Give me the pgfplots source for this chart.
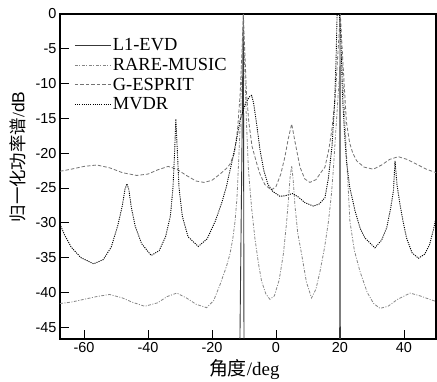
\documentclass[border=0pt]{standalone}
\usepackage{fontspec}
\setmainfont{Liberation Serif}
\setsansfont{Liberation Sans}
\newfontfamily\cjk{Noto Sans CJK SC}
\usepackage{pgfplots}
\pgfplotsset{compat=1.18}
\definecolor{cL}{gray}{0.22}
\definecolor{cR}{gray}{0.52}
\definecolor{cG}{gray}{0.45}
\definecolor{cM}{gray}{0.0}
\begin{document}
\begin{tikzpicture}
\path[use as bounding box] (-60bp,-43bp) rectangle (377bp,339bp);
\begin{axis}[
  at={(0,0)}, anchor=south west,
  scale only axis, width=376bp, height=325bp,
  xmin=-67.5, xmax=50, ymin=-46.7, ymax=0,
  xtick={-60,-40,-20,0,20,40}, ytick={-45,-40,-35,-30,-25,-20,-15,-10,-5,0},
  tick align=inside, xtick pos=left, ytick pos=left,
  major tick length=9bp,
  tick style={line width=0.9bp, black},
  axis line style={line width=1.1bp},
  ticklabel style={font=\sffamily\fontsize{14.5}{16}\selectfont},
  /pgf/number format/assume math mode=true,
  xlabel={{\cjk 角度}/deg},
  ylabel={{\cjk 归一化功率谱}/{\sffamily dB}},
  xlabel style={at={(axis description cs:0.49,-0.064)}, anchor=north, inner sep=0pt, font=\fontsize{19}{21}\selectfont},
  ylabel style={at={(axis description cs:-0.09,0.56)}, anchor=south, inner sep=0pt, font=\fontsize{17.5}{20}\selectfont},
  legend style={at={(axis description cs:0.038,0.93)}, anchor=north west, draw=none, fill=none,
    font=\fontsize{18.5}{20}\selectfont, row sep=3bp, inner sep=0pt, nodes={inner sep=1.5bp}},
  legend cell align=left,
  legend image code/.code={\draw[#1] (0bp,0bp) -- (36bp,0bp);},
]
\addplot[cL, line width=0.9bp] coordinates {
(-68,-60) (-11.3,-48) (-10.2,0) (-10.0,-48) (-9.9,-60) (19.85,-60) (19.9,-48) (20.0,0) (20.1,-48) (20.15,-60) (55,-60)
};
\addlegendentry{L1-EVD}
\addplot[cR, line width=0.8bp, dash pattern=on 3bp off 1.5bp on 1bp off 1.5bp] coordinates {
(-67.5,-41.6) (-64,-41.4) (-60,-41.0) (-56,-40.6) (-52,-40.3) (-48,-40.8) (-45,-41.4) (-41,-42.0) (-37,-41.5) (-34,-40.6) (-31,-40.1) (-28,-40.8) (-25,-41.7) (-21.7,-42.2) (-19.5,-41.2) (-17.5,-38.9) (-15.5,-36.3) (-14.4,-34.5) (-13.5,-32.3) (-12.8,-29.8) (-12.2,-26.5) (-11.8,-22.5) (-11.2,-16) (-10.7,-9) (-10.2,-1) (-9.7,-9) (-9.2,-16) (-8.6,-22.5) (-7.6,-28) (-6.6,-32.2) (-5.5,-35.8) (-4.5,-38.4) (-3.2,-40.2) (-1.9,-41) (-0.5,-40.5) (1,-38.2) (2.3,-34.5) (3.3,-30) (4,-26) (4.4,-23.5) (4.9,-21.8) (5.4,-24) (5.9,-27.4) (6.8,-31.5) (8,-34.5) (9.5,-38.5) (11.1,-40.8) (12.5,-39.5) (13.75,-37) (15.2,-33.5) (16.4,-29.8) (17.3,-26) (17.9,-22.5) (18.8,-16) (19.8,-9) (20.5,-5.7) (21.2,-12) (22,-20) (23.1,-29.8) (24.5,-34) (26.25,-37) (28.5,-40) (30.5,-41.6) (32.5,-42.3) (35,-42) (38,-41) (41.9,-40.1) (45,-40.5) (48,-41) (50,-41.3)
};
\addlegendentry{RARE-MUSIC}
\addplot[cG, line width=0.8bp, dash pattern=on 3.5bp off 2bp] coordinates {
(-67.5,-22.6) (-64,-22.3) (-60,-21.9) (-56,-21.7) (-52,-22.1) (-48,-22.8) (-43.5,-23.2) (-40,-23.0) (-37,-22.4) (-33.7,-21.9) (-31,-22.3) (-28,-23.2) (-25,-24.0) (-22.5,-24.2) (-20,-23.9) (-17.5,-23.0) (-15.5,-22.2) (-14.4,-21.6) (-13,-20) (-12,-16.5) (-11.2,-11.5) (-10.7,-6) (-10.2,0) (-9.7,-6) (-9.2,-11.5) (-8.5,-15.5) (-7.5,-19) (-6,-21.5) (-5,-23) (-3.5,-24.5) (-1.5,-25.3) (0,-24.8) (1.5,-23) (2.8,-20.5) (3.8,-18) (4.9,-15.8) (6,-18.5) (7.5,-22) (9,-23.7) (10.6,-24.2) (12.5,-23.8) (14,-22.8) (15.3,-22) (16.5,-19.5) (17.5,-16.5) (18.5,-12) (19.3,-6) (20.1,0) (20.8,-6) (21.3,-10) (22,-15.5) (23,-18.5) (24,-20) (25.2,-21.1) (27.5,-22.0) (30.4,-22.3) (33,-21.7) (35.5,-20.9) (38.2,-20.5) (41,-20.9) (44,-21.6) (47,-22.3) (50,-22.8)
};
\addlegendentry{G-ESPRIT}
\addplot[cM, line width=0.9bp, dash pattern=on 1.1bp off 1.1bp] coordinates {
(-67.5,-30.2) (-66,-31.8) (-64,-33.5) (-61,-35.0) (-57,-35.9) (-54,-35.3) (-51.5,-33.5) (-49.5,-30.5) (-48,-27.5) (-47.2,-25.2) (-46.6,-24.4) (-46,-25.2) (-45.2,-27.8) (-44,-30.5) (-42,-33) (-39,-34.7) (-36.5,-34) (-34.5,-32) (-33,-29) (-32.2,-25) (-31.7,-20) (-31.3,-15.1) (-30.8,-20) (-30.3,-25) (-29.3,-29) (-27.5,-32) (-24.3,-33.4) (-21.5,-32.3) (-19,-29.8) (-17,-27.2) (-15.5,-24.8) (-13.9,-21.5) (-12.5,-18.5) (-11.25,-15.3) (-9.5,-12.8) (-8.3,-11.9) (-7.6,-11.7) (-7,-12.8) (-6,-16) (-5,-19.5) (-3.8,-22.5) (-2.5,-24.5) (-1,-25.5) (1.25,-26.2) (3,-26.1) (5.2,-25.8) (7,-26.3) (9,-27.1) (11.7,-27.6) (13.5,-27.3) (15.3,-26.4) (16.4,-23.5) (17.5,-19) (18.3,-13) (18.8,-6) (19.1,0) (19.6,2) (20.3,-4) (20.8,-12) (21.4,-17) (22,-21) (23,-24.8) (24.7,-28.3) (26.3,-30.8) (27.8,-32.2) (30.9,-33.6) (33,-32.5) (34.6,-30.7) (35.8,-28) (36.7,-25.4) (37.2,-21.1) (37.8,-24.5) (38.75,-27.4) (39.8,-30) (40.8,-32.2) (42.5,-34.3) (44.5,-35.1) (46.5,-34.5) (48,-33.1) (49.2,-31) (50.2,-28.8)
};
\addlegendentry{MVDR}
\end{axis}
\end{tikzpicture}
\end{document}
